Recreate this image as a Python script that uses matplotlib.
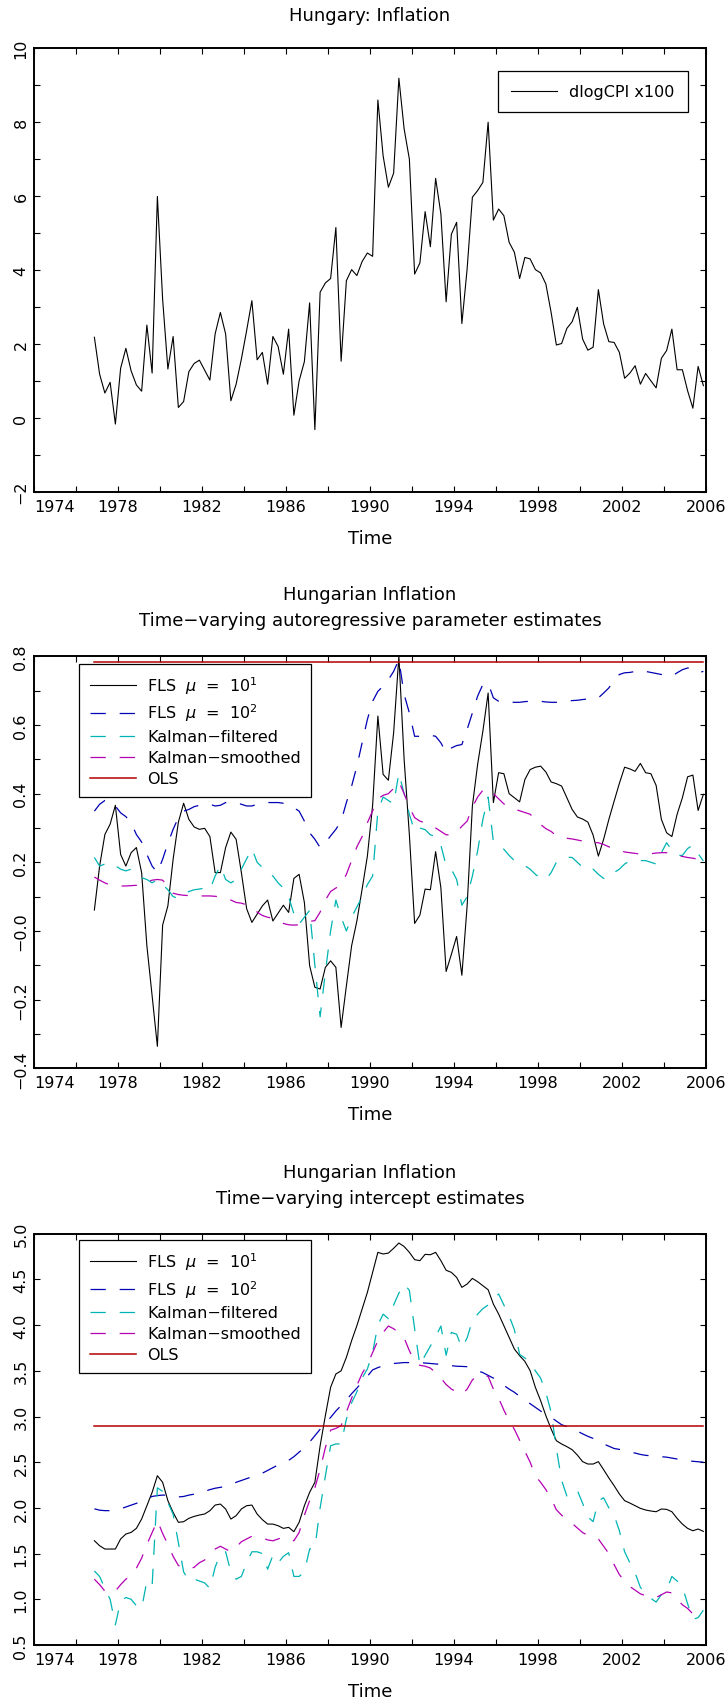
import numpy as np
import matplotlib
matplotlib.use("Agg")
import matplotlib.pyplot as plt

plt.rcParams['font.family'] = ['DejaVu Sans']
plt.rcParams['mathtext.fontset'] = 'dejavusans'
plt.rcParams['lines.scale_dashes'] = False

# quarterly observations, 1976Q4 .. 2005Q4 (plotted at mid-quarter)
first_quarter = 1976.875
n_obs = 117
time = first_quarter + 0.25 * np.arange(n_obs)

# --- panel 1: dlogCPI x100
dlogcpi = [2.18, 1.18, 0.67, 0.96, -0.17, 1.34, 1.88, 1.27, 0.89, 0.72, 2.51, 1.21, 5.99,
           3.21, 1.32, 2.20, 0.28, 0.44, 1.25, 1.47, 1.56, 1.29, 1.02, 2.27, 2.85, 2.27,
           0.46, 0.91, 1.59, 2.36, 3.17, 1.57, 1.77, 0.91, 2.20, 1.93, 1.18, 2.40, 0.07,
           1.00, 1.52, 3.11, -0.32, 3.40, 3.65, 3.77, 5.15, 1.53, 3.71, 4.01, 3.85, 4.23,
           4.46, 4.37, 8.60, 7.09, 6.24, 6.62, 9.19, 7.82, 7.00, 3.89, 4.19, 5.58, 4.63,
           6.48, 5.52, 3.14, 4.97, 5.29, 2.55, 4.03, 5.97, 6.15, 6.37, 8.00, 5.35, 5.65,
           5.47, 4.75, 4.48, 3.77, 4.34, 4.30, 4.01, 3.92, 3.62, 2.85, 1.97, 2.01, 2.42,
           2.60, 2.99, 2.13, 1.83, 1.91, 3.47, 2.54, 2.06, 2.04, 1.77, 1.07, 1.21, 1.41,
           0.91, 1.20, 1.00, 0.81, 1.61, 1.82, 2.40, 1.30, 1.30, 0.73, 0.26, 1.39, 0.87]

# --- panel 2: autoregressive parameter
ar_fls1 = [0.061, 0.189, 0.281, 0.311, 0.366, 0.223, 0.189, 0.228, 0.243, 0.170, -0.043,
           -0.189, -0.336, 0.017, 0.073, 0.209, 0.317, 0.372, 0.325, 0.303, 0.296, 0.299,
           0.275, 0.170, 0.170, 0.243, 0.288, 0.267, 0.170, 0.065, 0.025, 0.049, 0.073,
           0.090, 0.029, 0.052, 0.075, 0.054, 0.153, 0.165, 0.083, -0.101, -0.164, -0.169,
           -0.106, -0.087, -0.106, -0.281, -0.160, -0.043, 0.029, 0.122, 0.218, 0.366,
           0.626, 0.456, 0.439, 0.577, 0.800, 0.500, 0.280, 0.022, 0.046, 0.122, 0.120,
           0.231, 0.126, -0.118, -0.068, -0.016, -0.129, 0.073, 0.364, 0.485, 0.582,
           0.693, 0.374, 0.461, 0.458, 0.400, 0.388, 0.376, 0.441, 0.470, 0.477, 0.480,
           0.463, 0.434, 0.429, 0.422, 0.388, 0.354, 0.332, 0.326, 0.317, 0.279, 0.218,
           0.267, 0.325, 0.378, 0.430, 0.477, 0.472, 0.465, 0.488, 0.461, 0.458, 0.424,
           0.325, 0.286, 0.275, 0.340, 0.388, 0.449, 0.454, 0.351, 0.398]
ar_fls2 = [0.349, 0.369, 0.380, 0.378, 0.364, 0.344, 0.333, 0.315, 0.281, 0.259, 0.223,
           0.189, 0.170, 0.209, 0.255, 0.296, 0.330, 0.349, 0.354, 0.362, 0.366, 0.369,
           0.369, 0.364, 0.366, 0.374, 0.375, 0.374, 0.369, 0.364, 0.364, 0.369, 0.372,
           0.374, 0.374, 0.374, 0.372, 0.369, 0.359, 0.349, 0.320, 0.286, 0.267, 0.243,
           0.257, 0.277, 0.296, 0.320, 0.374, 0.422, 0.480, 0.548, 0.616, 0.669, 0.698,
           0.713, 0.732, 0.756, 0.790, 0.689, 0.635, 0.567, 0.567, 0.569, 0.570, 0.567,
           0.548, 0.519, 0.533, 0.540, 0.543, 0.587, 0.635, 0.684, 0.718, 0.722, 0.679,
           0.669, 0.668, 0.667, 0.666, 0.666, 0.668, 0.669, 0.669, 0.669, 0.667, 0.666,
           0.666, 0.668, 0.670, 0.671, 0.672, 0.674, 0.676, 0.677, 0.679, 0.693, 0.708,
           0.732, 0.747, 0.752, 0.753, 0.756, 0.759, 0.756, 0.753, 0.750, 0.747, 0.745,
           0.742, 0.752, 0.761, 0.766, 0.763, 0.752, 0.756]
ar_kf = [0.214, 0.189, 0.195, 0.200, 0.190, 0.180, 0.175, 0.180, 0.170, 0.155, 0.150,
         0.140, 0.150, 0.135, 0.120, 0.100, 0.095, 0.105, 0.115, 0.120, 0.122, 0.125,
         0.120, 0.160, 0.190, 0.150, 0.140, 0.150, 0.180, 0.210, 0.240, 0.200, 0.185,
         0.170, 0.160, 0.140, 0.125, 0.100, 0.050, 0.020, 0.040, 0.060, -0.100, -0.250,
         -0.120, 0.000, 0.090, 0.040, 0.000, 0.040, 0.070, 0.100, 0.135, 0.160, 0.350,
         0.390, 0.380, 0.370, 0.460, 0.400, 0.340, 0.290, 0.300, 0.295, 0.280, 0.275,
         0.250, 0.190, 0.180, 0.150, 0.075, 0.100, 0.160, 0.233, 0.325, 0.390, 0.260,
         0.250, 0.238, 0.220, 0.205, 0.198, 0.190, 0.180, 0.165, 0.153, 0.150, 0.170,
         0.200, 0.210, 0.215, 0.214, 0.200, 0.185, 0.175, 0.180, 0.165, 0.153, 0.153,
         0.170, 0.180, 0.195, 0.204, 0.205, 0.205, 0.205, 0.200, 0.195, 0.228, 0.257,
         0.235, 0.220, 0.220, 0.240, 0.250, 0.225, 0.204]
ar_ks = [0.157, 0.148, 0.140, 0.134, 0.132, 0.131, 0.131, 0.132, 0.133, 0.137, 0.142,
         0.148, 0.150, 0.148, 0.130, 0.110, 0.106, 0.104, 0.103, 0.102, 0.102, 0.102,
         0.102, 0.101, 0.099, 0.096, 0.090, 0.083, 0.081, 0.076, 0.068, 0.055, 0.045,
         0.040, 0.037, 0.030, 0.022, 0.018, 0.017, 0.018, 0.022, 0.028, 0.030, 0.055,
         0.090, 0.115, 0.125, 0.135, 0.165, 0.205, 0.245, 0.275, 0.315, 0.350, 0.385,
         0.395, 0.400, 0.415, 0.435, 0.400, 0.360, 0.330, 0.320, 0.315, 0.310, 0.300,
         0.290, 0.280, 0.280, 0.288, 0.305, 0.320, 0.360, 0.390, 0.410, 0.415, 0.400,
         0.385, 0.370, 0.360, 0.355, 0.350, 0.345, 0.340, 0.325, 0.310, 0.298, 0.290,
         0.277, 0.272, 0.270, 0.268, 0.265, 0.262, 0.259, 0.258, 0.257, 0.252, 0.245,
         0.240, 0.235, 0.230, 0.228, 0.226, 0.224, 0.223, 0.225, 0.227, 0.228, 0.228,
         0.226, 0.220, 0.217, 0.214, 0.212, 0.209, 0.207]
ar_ols = 0.783

# --- panel 3: intercept
ic_fls1 = [1.641, 1.586, 1.550, 1.550, 1.550, 1.660, 1.714, 1.732, 1.776, 1.878, 2.024,
           2.170, 2.352, 2.280, 2.079, 1.951, 1.842, 1.849, 1.886, 1.907, 1.922, 1.933,
           1.969, 2.031, 2.042, 1.988, 1.878, 1.915, 1.988, 2.024, 2.031, 1.933, 1.871,
           1.823, 1.823, 1.805, 1.776, 1.787, 1.740, 1.842, 2.024, 2.170, 2.280, 2.680,
           3.010, 3.320, 3.465, 3.500, 3.647, 3.830, 3.994, 4.176, 4.358, 4.577, 4.796,
           4.778, 4.788, 4.840, 4.898, 4.860, 4.796, 4.716, 4.705, 4.774, 4.770, 4.796,
           4.705, 4.600, 4.577, 4.522, 4.413, 4.449, 4.511, 4.475, 4.431, 4.387, 4.230,
           4.121, 3.993, 3.866, 3.738, 3.665, 3.603, 3.501, 3.319, 3.173, 3.009, 2.863,
           2.735, 2.699, 2.670, 2.637, 2.578, 2.506, 2.480, 2.480, 2.506, 2.418, 2.327,
           2.243, 2.152, 2.079, 2.053, 2.024, 1.995, 1.977, 1.966, 1.958, 1.988, 1.984,
           1.958, 1.885, 1.823, 1.776, 1.750, 1.769, 1.743]
ic_fls2 = [1.990, 1.975, 1.970, 1.970, 1.980, 1.990, 2.010, 2.030, 2.050, 2.075, 2.100,
           2.125, 2.135, 2.140, 2.140, 2.130, 2.120, 2.125, 2.140, 2.150, 2.165, 2.180,
           2.200, 2.215, 2.225, 2.235, 2.250, 2.280, 2.300, 2.320, 2.340, 2.355, 2.380,
           2.410, 2.440, 2.470, 2.495, 2.520, 2.560, 2.610, 2.660, 2.720, 2.790, 2.860,
           2.930, 2.990, 3.060, 3.120, 3.180, 3.250, 3.310, 3.380, 3.440, 3.510, 3.535,
           3.555, 3.565, 3.580, 3.585, 3.590, 3.590, 3.590, 3.588, 3.585, 3.580, 3.575,
           3.570, 3.563, 3.556, 3.550, 3.548, 3.545, 3.530, 3.500, 3.480, 3.450, 3.420,
           3.380, 3.340, 3.300, 3.265, 3.220, 3.180, 3.140, 3.100, 3.060, 3.020, 2.990,
           2.950, 2.910, 2.890, 2.863, 2.840, 2.810, 2.783, 2.760, 2.730, 2.700, 2.675,
           2.650, 2.640, 2.625, 2.610, 2.600, 2.585, 2.575, 2.570, 2.565, 2.560, 2.555,
           2.545, 2.535, 2.525, 2.515, 2.510, 2.505, 2.500]
ic_kf = [1.31, 1.25, 1.12, 1.00, 0.72, 0.98, 1.02, 1.00, 0.93, 0.90, 1.20, 1.15, 2.22,
         2.18, 2.06, 1.93, 1.62, 1.30, 1.20, 1.22, 1.20, 1.18, 1.12, 1.35, 1.50, 1.52,
         1.30, 1.22, 1.25, 1.40, 1.52, 1.52, 1.50, 1.33, 1.48, 1.40, 1.47, 1.51, 1.25,
         1.25, 1.30, 1.55, 1.56, 2.00, 2.35, 2.68, 2.70, 2.70, 2.97, 3.15, 3.27, 3.42,
         3.52, 3.70, 4.00, 4.12, 4.07, 4.22, 4.35, 4.45, 4.38, 3.96, 3.56, 3.67, 3.77,
         3.87, 3.99, 3.67, 3.92, 3.90, 3.75, 3.86, 4.05, 4.12, 4.18, 4.22, 4.30, 4.34,
         4.22, 4.10, 3.95, 3.68, 3.64, 3.59, 3.50, 3.42, 3.26, 3.05, 2.65, 2.30, 2.13,
         2.13, 2.19, 2.05, 1.90, 1.85, 2.08, 2.11, 2.00, 1.92, 1.75, 1.52, 1.40, 1.29,
         1.13, 1.07, 1.01, 0.97, 1.05, 1.10, 1.25, 1.20, 1.14, 0.95, 0.78, 0.80, 0.88]
ic_ks = [1.22, 1.16, 1.09, 1.07, 1.09, 1.16, 1.22, 1.26, 1.34, 1.45, 1.60, 1.73, 1.86,
         1.72, 1.60, 1.47, 1.37, 1.34, 1.33, 1.35, 1.40, 1.43, 1.49, 1.55, 1.58, 1.55,
         1.52, 1.57, 1.63, 1.66, 1.69, 1.68, 1.67, 1.65, 1.64, 1.66, 1.68, 1.67, 1.64,
         1.73, 1.92, 2.08, 2.22, 2.42, 2.66, 2.85, 2.87, 2.90, 3.05, 3.20, 3.34, 3.47,
         3.57, 3.70, 3.83, 3.92, 3.99, 3.96, 3.92, 3.86, 3.72, 3.60, 3.56, 3.55, 3.53,
         3.48, 3.42, 3.35, 3.30, 3.27, 3.24, 3.30, 3.40, 3.45, 3.45, 3.44, 3.30, 3.20,
         3.07, 2.95, 2.86, 2.74, 2.62, 2.50, 2.35, 2.28, 2.20, 2.10, 1.98, 1.92, 1.87,
         1.83, 1.78, 1.73, 1.70, 1.68, 1.66, 1.58, 1.50, 1.38, 1.27, 1.20, 1.14, 1.10,
         1.06, 1.04, 1.03, 1.02, 1.05, 1.08, 1.07, 1.00, 0.94, 0.90, 0.84, 0.83, 0.85]
ic_ols = 2.892

series_labels = [r'FLS  $\mu$  =  $10^1$', r'FLS  $\mu$  =  $10^2$',
                 'Kalman\u2212filtered', 'Kalman\u2212smoothed', 'OLS']

x_ticks = np.arange(1974, 2007, 2)
x_ticklabels = ['1974', '', '1978', '', '1982', '', '1986', '', '1990', '', '1994', '',
                '1998', '', '2002', '', '2006']
p1_yticks = np.arange(-2, 11, 1)
p1_ylabels = ['\u22122', '', '0', '', '2', '', '4', '', '6', '', '8', '', '10']
p2_yticks = np.arange(-0.4, 0.81, 0.1)
p2_ylabels = ['\u22120.4', '', '\u22120.2', '', '\u22120.0', '', '0.2', '', '0.4', '',
              '0.6', '', '0.8']
p3_yticks = np.arange(0.5, 5.01, 0.5)
p3_ylabels = ['0.5', '1.0', '1.5', '2.0', '2.5', '3.0', '3.5', '4.0', '4.5', '5.0']

c_blue = '#0000b4'
c_cyan = '#00b4b4'
c_mag = '#b400b4'
c_red = '#b40000'
dash = (0, (11, 10))
FS = 11.5      # tick labels and legends
FS_T = 13      # titles and axis labels

W, H = 728, 1706
fig = plt.figure(figsize=(W / 100, H / 100), dpi=100)


def make_axes(top_px, bottom_px):
    ax = fig.add_axes([34 / W, 1 - bottom_px / H, 672 / W, (bottom_px - top_px) / H])
    for s in ax.spines.values():
        s.set_linewidth(1.4)
    ax.set_xlim(1974, 2006)
    ax.set_xticks(x_ticks)
    ax.set_xticklabels(x_ticklabels, fontsize=FS)
    ax.get_xticklabels()[0].set_ha('left')
    ax.tick_params(direction='in', top=True, right=True, length=4.5, width=0.8,
                   pad=5)
    ax.tick_params(axis='y', pad=4)
    return ax


def set_y(ax, ticks, labels, lo, hi):
    ax.set_ylim(lo, hi)
    ax.set_yticks(ticks)
    ax.set_yticklabels(labels, fontsize=FS, rotation=90, va='center')


def label(ypx, txt):
    fig.text(370 / W, 1 - ypx / H, txt, ha='center', va='center', fontsize=FS_T)


# panel 1
ax1 = make_axes(49.3, 492.7)
set_y(ax1, p1_yticks, p1_ylabels, -2, 10)
ax1.plot(time, dlogcpi, color='black', lw=0.8, label='dlogCPI x100')
leg = ax1.legend(loc='upper left', bbox_to_anchor=(0.691, 0.948), borderaxespad=0,
                 fontsize=FS, fancybox=False, edgecolor='black', framealpha=1,
                 handlelength=2.9, handletextpad=0.75, borderpad=0.8)
leg.get_frame().set_linewidth(0.9)
label(16, 'Hungary: Inflation')
label(539, 'Time')


def panel(ax, fls1, fls2, kf, ks, ols):
    ax.plot(time, fls1, color='black', lw=0.8, label=series_labels[0])
    ax.plot(time, fls2, color=c_blue, lw=0.9, ls=dash, label=series_labels[1])
    ax.plot(time, kf, color=c_cyan, lw=0.9, ls=dash, label=series_labels[2])
    ax.plot(time, ks, color=c_mag, lw=0.9, ls=dash, label=series_labels[3])
    ax.plot(time, np.full(n_obs, ols), color=c_red, lw=1.1, label=series_labels[4])
    lg = ax.legend(loc='upper left', bbox_to_anchor=(0.0674, 0.982), borderaxespad=0,
                   fontsize=FS, fancybox=False, edgecolor='black', framealpha=1,
                   handlelength=2.9, handletextpad=0.7, borderpad=0.65,
                   labelspacing=0.37)
    lg.get_frame().set_linewidth(0.9)


# panel 2
ax2 = make_axes(657.3, 1069.3)
set_y(ax2, p2_yticks, p2_ylabels, -0.4, 0.8)
panel(ax2, ar_fls1, ar_fls2, ar_kf, ar_ks, ar_ols)
label(595, 'Hungarian Inflation')
label(621.5, 'Time\u2212varying autoregressive parameter estimates')
label(1115, 'Time')

# panel 3
ax3 = make_axes(1234.7, 1646)
set_y(ax3, p3_yticks, p3_ylabels, 0.5, 5.0)
panel(ax3, ic_fls1, ic_fls2, ic_kf, ic_ks, ic_ols)
ax3.get_legend().set_bbox_to_anchor((0.0674, 0.985))
label(1172.5, 'Hungarian Inflation')
label(1199, 'Time\u2212varying intercept estimates')
label(1692, 'Time')

fig.savefig('out.png', dpi=100)
